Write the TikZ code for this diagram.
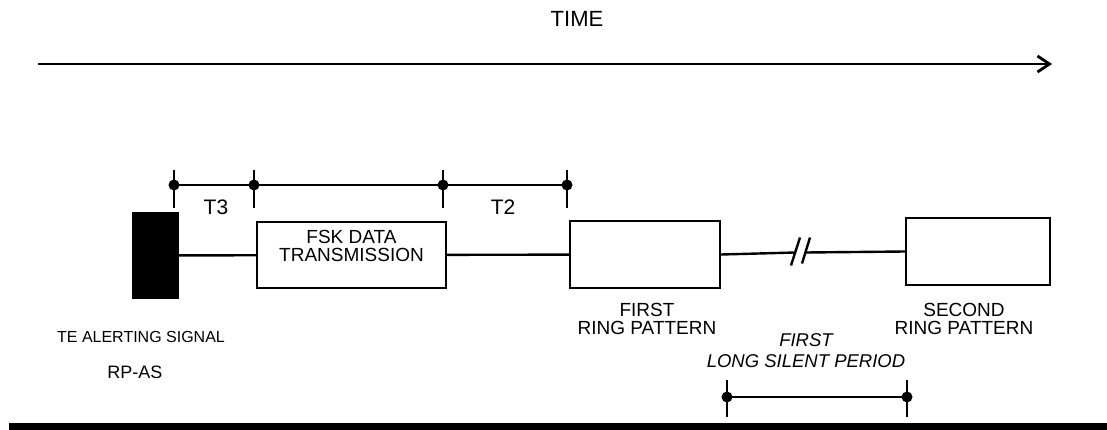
\documentclass[tikz,border=0pt]{standalone}
\usepackage{fontspec}
\setmainfont{Liberation Sans}
\usetikzlibrary{arrows.meta, positioning, calc}
\tikzset{
  sigbox/.style={draw, line width=2.4pt, inner sep=0pt},
  lbl/.style={inner sep=0pt, align=center, font=\fontsize{19}{18}\selectfont},
  tick/.style={line width=2.4pt},
  dot/.style={fill=black}
}
\begin{document}
\begin{tikzpicture}[x=1pt,y=-1pt]
  \useasboundingbox (0,0) rectangle (1107,430);
  % Time axis
  \node[lbl, font=\fontsize{22}{22}\selectfont] (time) at (577,19) {TIME};
  \coordinate (tstart) at (38,64);
  \coordinate (tend) at (1052,64);
  \draw[line width=2.8pt, -{Straight Barb[length=12pt, width=16pt]}] (tstart) -- (tend);
  % Signals
  \node[sigbox, fill=black, minimum width=45pt, minimum height=85pt] (alert) at (155.5,255.5) {};
  \node[sigbox, minimum width=189pt, minimum height=66pt] (fsk) at (351.5,255) {};
  \node[lbl] (fsklbl) at (351.5,246) {FSK DATA\\TRANSMISSION};
  \node[sigbox, minimum width=150pt, minimum height=67pt] (ringA) at (645,254.5) {};
  \node[sigbox, minimum width=144pt, minimum height=67pt] (ringB) at (978,251.5) {};
  \coordinate (brkA) at (795.5,252.5);
  \coordinate (brkB) at (806,252.5);
  \draw[line width=2.4pt] (alert) -- (fsk);
  \draw[line width=2.4pt] (fsk) -- (ringA);
  \draw[line width=2.4pt] (ringA.east) -- (brkA);
  \draw[line width=2.4pt] (brkB) -- (ringB.west);
  % Break marks
  \draw[line width=2.4pt] ([shift={(-4.5pt,-13pt)}]brkA) -- ([shift={(4.5pt,15pt)}]brkA);
  \draw[line width=2.4pt] ([shift={(-4pt,-11pt)}]brkB) -- ([shift={(4pt,15pt)}]brkB);
  % Timing marks T3 and T2
  \foreach \n/\x in {0/174,1/254,2/443,3/567}{
    \coordinate (t\n) at (\x,185);}
  \draw[line width=2.4pt] (t0) -- (t3);
  \foreach \n in {0,...,3}{
    \draw[tick] ([yshift=15pt]t\n) -- ([yshift=-23pt]t\n);
    \fill[dot] (t\n) circle(5.5pt);}
  \node[lbl, font=\fontsize{21}{21}\selectfont] (tthree) at (216,207) {T3};
  \node[lbl, font=\fontsize{21}{21}\selectfont] (ttwo) at (503,207) {T2};
  % Silent period
  \coordinate (sA) at (727,397);
  \coordinate (sB) at (907,397);
  \draw[line width=2.4pt] (sA) -- (sB);
  \foreach \c in {sA,sB}{
    \draw[tick] ([yshift=17pt]\c) -- ([yshift=-20pt]\c);
    \fill[dot] (\c) circle(5.5pt);}
  \node[lbl, font=\fontsize{18.5}{21}\selectfont\itshape] (silent) at (806,350.5) {FIRST\\LONG SILENT PERIOD};
  % Labels
  \node[lbl] (ringAlbl) at (647,319) {FIRST\\RING PATTERN};
  \node[lbl] (ringBlbl) at (964,319) {SECOND\\RING PATTERN};
  \node[lbl, font=\fontsize{16}{16}\selectfont] (alertlbl) at (141,337) {TE ALERTING SIGNAL};
  \node[lbl, font=\fontsize{18}{18}\selectfont] (rpas) at (135,372) {RP-AS};
  % Bottom rule
  \fill (9,423) rectangle (1107,430);
\end{tikzpicture}
\end{document}
